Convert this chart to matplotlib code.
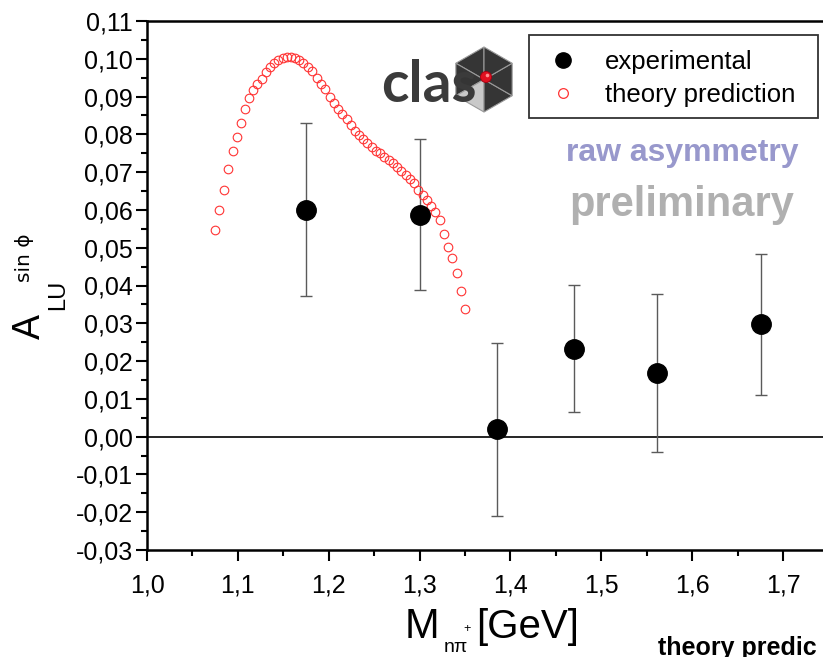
import math
import matplotlib
matplotlib.use("Agg")
import matplotlib.pyplot as plt
from matplotlib.ticker import FixedLocator, MultipleLocator, FuncFormatter
from matplotlib.lines import Line2D
from matplotlib.patches import Polygon, Circle, Rectangle

# Measured asymmetry vs. invariant mass
mass_exp = [1.175, 1.300, 1.385, 1.470, 1.561, 1.676]
asym_exp = [0.0600, 0.0587, 0.0019, 0.0233, 0.0168, 0.0297]
asym_err = [0.0229, 0.0200, 0.0228, 0.0169, 0.0209, 0.0187]

# Model curve
mass_th = [1.0745, 1.0789, 1.0844, 1.0891, 1.0943, 1.0987, 1.1031, 1.1078, 1.1122, 1.1170,
           1.1214, 1.1262, 1.1310, 1.1354, 1.1401, 1.1445, 1.1493, 1.1537, 1.1581, 1.1629,
           1.1677, 1.1721, 1.1769, 1.1816, 1.1867, 1.1915, 1.1962, 1.2011, 1.2058, 1.2102,
           1.2150, 1.2198, 1.2245, 1.2293, 1.2337, 1.2381, 1.2425, 1.2473, 1.2520, 1.2564,
           1.2612, 1.2660, 1.2704, 1.2752, 1.2799, 1.2847, 1.2895, 1.2939, 1.2986, 1.3034,
           1.3078, 1.3126, 1.3173, 1.3222, 1.3266, 1.3316, 1.3360, 1.3409, 1.3456, 1.3503]
asym_th = [0.0547, 0.0600, 0.0653, 0.0707, 0.0757, 0.0794, 0.0830, 0.0866, 0.0896, 0.0917,
           0.0932, 0.0947, 0.0965, 0.0979, 0.0989, 0.0997, 0.1001, 0.1004, 0.1004, 0.1002,
           0.0997, 0.0988, 0.0979, 0.0967, 0.0950, 0.0933, 0.0919, 0.0899, 0.0882, 0.0867,
           0.0853, 0.0840, 0.0825, 0.0809, 0.0798, 0.0787, 0.0776, 0.0767, 0.0757, 0.0750,
           0.0741, 0.0732, 0.0723, 0.0714, 0.0704, 0.0692, 0.0682, 0.0670, 0.0654, 0.0639,
           0.0626, 0.0611, 0.0594, 0.0573, 0.0536, 0.0503, 0.0472, 0.0432, 0.0386, 0.0337]

x_ticks = [1.0, 1.1, 1.2, 1.3, 1.4, 1.5, 1.6, 1.7]
legend_labels = ["experimental", "theory prediction"]

W, H = 823, 657
fig = plt.figure(figsize=(W / 100, H / 100), dpi=100)


def fx(x):
    return x / W


def fy(y):
    return 1 - y / H


SANS = ["Liberation Sans", "DejaVu Sans"]

# axes: x runs to 1.8 so the right part extends past the canvas edge
left_px, right_px, top_px, bot_px = 147, 147 + 0.8 * 908.6, 21, 550
ax = fig.add_axes([fx(left_px), fy(bot_px), (right_px - left_px) / W, (bot_px - top_px) / H])
ax.set_xlim(1.0, 1.8)
ax.set_ylim(-0.03, 0.11)

for s in ax.spines.values():
    s.set_linewidth(1.8)
ax.spines["right"].set_visible(False)

ax.axhline(0, color="black", lw=1.2, zorder=1)

ax.errorbar(mass_exp, asym_exp, yerr=asym_err, fmt="none", ecolor="#5a5a5a",
            elinewidth=1.0, capsize=4, capthick=1.0, zorder=2)
ax.plot(mass_th, asym_th, linestyle="none", marker="o", markersize=6.2,
        markerfacecolor="none", markeredgecolor="#ff3333", markeredgewidth=0.8, zorder=3)
ax.plot(mass_exp, asym_exp, linestyle="none", marker="o", markersize=14,
        color="black", zorder=4)

ax.xaxis.set_major_locator(FixedLocator(x_ticks))
ax.xaxis.set_minor_locator(FixedLocator([t + 0.05 for t in x_ticks]))
ax.yaxis.set_major_locator(MultipleLocator(0.01))
ax.yaxis.set_minor_locator(MultipleLocator(0.005))
ax.xaxis.set_major_formatter(FuncFormatter(lambda v, p: f"{v:.1f}".replace(".", ",")))


def yfmt(v, p):
    if abs(v) < 1e-9:
        v = 0.0
    return f"{v:.2f}".replace(".", ",")


ax.yaxis.set_major_formatter(FuncFormatter(yfmt))
ax.tick_params(which="major", direction="out", length=8, width=1.5)
ax.tick_params(which="minor", direction="out", length=4, width=1.5)
ax.tick_params(axis="y", which="both", right=False)
ax.tick_params(axis="x", which="both", top=False)
ax.tick_params(axis="y", pad=2)
ax.tick_params(axis="x", pad=9)
for lab in ax.get_yticklabels():
    lab.set_fontfamily(SANS)
    lab.set_fontsize(18)
for lab in ax.get_xticklabels():
    lab.set_fontfamily(SANS)
    lab.set_fontsize(18)

# legend: frame drawn as a separate box, entries placed inside it
fig.add_artist(Rectangle((fx(529), fy(118)), (818 - 529) / W, (118 - 35) / H,
                         transform=fig.transFigure, facecolor="white",
                         edgecolor="#333333", lw=1.3, zorder=4))
handles = [
    Line2D([], [], linestyle="none", marker="o", markersize=11, color="black"),
    Line2D([], [], linestyle="none", marker="o", markersize=7, markerfacecolor="none",
           markeredgecolor="#ff3333", markeredgewidth=0.9),
]
leg = fig.legend(handles, legend_labels, loc="upper left",
                 bbox_to_anchor=(fx(542.5), fy(50)), frameon=False,
                 prop={"family": SANS, "size": 18.5}, borderpad=0, labelspacing=0.36,
                 handlelength=1.6, handletextpad=0.84, borderaxespad=0)
leg.set_zorder(5)

# overlay labels
fig.text(fx(682), fy(153), "raw asymmetry", ha="center", va="center", fontsize=23,
         fontweight="bold", color="#9898cc", family=SANS)
fig.text(fx(682), fy(205), "preliminary", ha="center", va="center", fontsize=30,
         fontweight="bold", color="#b0b0b0", family=SANS)
fig.text(fx(658), fy(655), "theory predic", ha="left", va="baseline", fontsize=18,
         fontweight="bold", color="black", family=SANS)

# y-axis title
fig.text(fx(30), fy(327), "A", rotation=90, ha="center", va="center", fontsize=27, family=SANS)
fig.text(fx(58.5), fy(295), "LU", rotation=90, ha="center", va="center", fontsize=17, family=SANS)
fig.text(fx(24), fy(258), "sin ϕ", rotation=90, ha="center", va="center", fontsize=14.5,
         family=["DejaVu Sans"])

# x-axis title
fig.text(fx(422), fy(627), "M", ha="center", va="center", fontsize=30, family=SANS)
fig.text(fx(456), fy(648), "nπ", ha="center", va="center", fontsize=14, family=SANS)
fig.text(fx(467), fy(629), "+", ha="center", va="center", fontsize=9, family=SANS)
fig.text(fx(528), fy(627), "[GeV]", ha="center", va="center", fontsize=29, family=SANS)

# logo, drawn in pixel units
lax = fig.add_axes([fx(378), fy(114), (520 - 378) / W, (114 - 44) / H])
lax.set_xlim(378, 520)
lax.set_ylim(114, 44)
lax.axis("off")
cx, cy, r = 484, 79.5, 32.5
verts = [(cx + r * math.cos(math.radians(a)), cy - r * math.sin(math.radians(a)))
         for a in (90, 150, 210, 270, 330, 30)]
for i in range(6):
    a, b = verts[i], verts[(i + 1) % 6]
    col = "#c9c9c9" if i == 2 else "#353535"
    lax.add_patch(Polygon([(cx, cy), a, b], closed=True, facecolor=col,
                          edgecolor="#9a9a9a", lw=0.8, zorder=1))
lax.text(381, 102, "clas", fontsize=41, fontweight="bold", family=["Lato", "DejaVu Sans"],
         color="#3b3b3b", ha="left", va="baseline", zorder=2)
lax.add_patch(Circle((486, 77), 5.5, facecolor="#e01020", edgecolor="#a00010", lw=0.6, zorder=3))
lax.add_patch(Circle((487.5, 75.5), 1.8, facecolor="#ff9090", edgecolor="none", zorder=4))

fig.savefig("out.png", dpi=100)
